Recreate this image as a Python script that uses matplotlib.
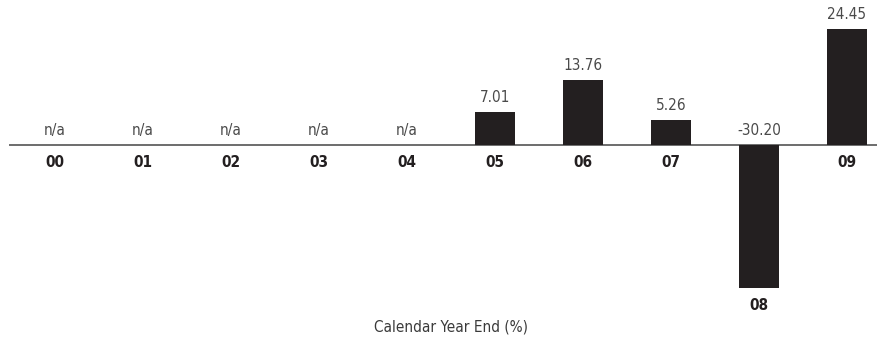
import matplotlib
matplotlib.use("Agg")
import matplotlib.pyplot as plt

years = ["00", "01", "02", "03", "04", "05", "06", "07", "08", "09"]
returns = [None, None, None, None, None, 7.01, 13.76, 5.26, -30.20, 24.45]
axis_title = "Calendar Year End (%)"

plt.rcParams["font.family"] = ["DejaVu Sans"]
plt.rcParams["font.stretch"] = "condensed"

fig = plt.figure(figsize=(8.78, 3.38), dpi=100)
ax = fig.add_axes([0, 0, 1, 1])

px_per_unit = 4.74
ax.set_xlim(-55 / 88, (878 - 55) / 88)
ax.set_ylim(-(338 - 145) / px_per_unit, 145 / px_per_unit)
ax.axis("off")

ax.axhline(0, xmin=10 / 878, xmax=1, color="#6d6d6d", lw=1.4, zorder=1)

label_kw = dict(textcoords="offset points", ha="center", fontsize=11, fontstretch="condensed")

for i, (yr, val) in enumerate(zip(years, returns)):
    if val is None:
        ax.annotate("n/a", (i, 0), xytext=(0, 5), va="bottom", color="#4a4a4a", **label_kw)
        ax.annotate(yr, (i, 0), xytext=(0, -7), va="top", fontweight="bold",
                    color="#231f20", **label_kw)
        continue
    ax.bar(i, val, width=40 / 88, color="#231f20", zorder=2)
    ax.annotate(f"{val:.2f}", (i, max(val, 0)), xytext=(0, 5), va="bottom",
                color="#4a4a4a", **label_kw)
    ax.annotate(yr, (i, min(val, 0)), xytext=(0, -7), va="top", fontweight="bold",
                color="#231f20", **label_kw)

fig.text(451 / 878, 1 - 327 / 338, axis_title, ha="center", va="center",
         fontsize=11, fontstretch="condensed", color="#3a3a3a")

fig.savefig("out.png", dpi=100)
